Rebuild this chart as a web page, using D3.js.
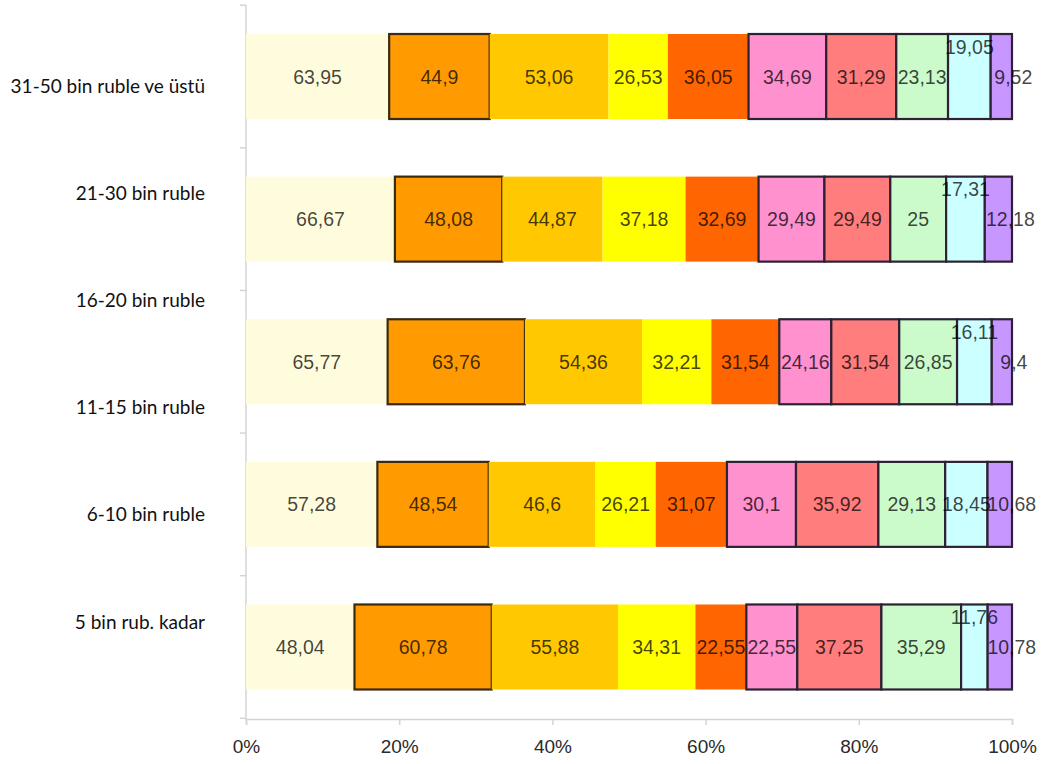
<!DOCTYPE html>
<html>
<head>
<meta charset="utf-8">
<script src="https://cdn.jsdelivr.net/npm/d3@7"></script>
<style>
  html, body { margin: 0; padding: 0; background: #fff; }
  svg { display: block; }
</style>
</head>
<body>
<svg id="chart" width="1052" height="764"></svg>
<script>
// Income groups shown on the left axis
const rowLabels = [
  "31-50 bin ruble ve üstü",
  "21-30 bin ruble",
  "16-20 bin ruble",
  "11-15 bin ruble",
  "6-10 bin ruble",
  "5 bin rub. kadar"
];

// One array per bar (top to bottom), ten answer shares each
const bar1 = [63.95, 44.9, 53.06, 26.53, 36.05, 34.69, 31.29, 23.13, 19.05, 9.52];
const bar2 = [66.67, 48.08, 44.87, 37.18, 32.69, 29.49, 29.49, 25, 17.31, 12.18];
const bar3 = [65.77, 63.76, 54.36, 32.21, 31.54, 24.16, 31.54, 26.85, 16.11, 9.4];
const bar4 = [57.28, 48.54, 46.6, 26.21, 31.07, 30.1, 35.92, 29.13, 18.45, 10.68];
const bar5 = [48.04, 60.78, 55.88, 34.31, 22.55, 22.55, 37.25, 35.29, 11.76, 10.78];
const bars = [bar1, bar2, bar3, bar4, bar5];

// Percent axis ticks
const xTicks = [0, 0.2, 0.4, 0.6, 0.8, 1];

const fills = ["#FFFCDD", "#FF9A00", "#FFC800", "#FFFF00", "#FF6500",
               "#FF91CF", "#FF7D7D", "#CBFBCB", "#CCFFFF", "#C896FF"];
const strokes = [null, "#3a2a10", null, null, null,
                 "#2c2234", "#2c2234", "#2c2234", "#2c2234", "#2c2234"];

const svg = d3.select("#chart");
const x = d3.scaleLinear().domain([0, 1]).range([246, 1012]);
const y = d3.scaleBand().domain(d3.range(bars.length))
  .range([5.2, 718.3]).paddingInner(0.404).paddingOuter(0.202);
const yLab = d3.scalePoint().domain(rowLabels).range([85, 621]);

// Axes
const axisColor = "#d4d4d4";
svg.append("line").attr("x1", x(0)).attr("x2", x(0))
  .attr("y1", 5).attr("y2", 719.5)
  .attr("stroke", axisColor).attr("stroke-width", 1.5);
const yBounds = d3.range(bars.length + 1).map(i => 5.2 + i * y.step());
svg.selectAll(".ytick").data(yBounds).join("line")
  .attr("x1", x(0) - 6).attr("x2", x(0))
  .attr("y1", d => d).attr("y2", d => d)
  .attr("stroke", axisColor).attr("stroke-width", 1.5);

const xAxis = svg.append("g").attr("transform", "translate(0,719)")
  .call(d3.axisBottom(x).tickValues(xTicks).tickFormat(d3.format(".0%"))
    .tickSize(6).tickPadding(15));
xAxis.select(".domain").attr("stroke", axisColor).attr("stroke-width", 1.5);
xAxis.selectAll(".tick line").attr("stroke", axisColor).attr("stroke-width", 1.5);
xAxis.selectAll(".tick text")
  .attr("font-family", "Liberation Sans, Arial, sans-serif")
  .attr("font-size", 19).attr("fill", "#2a2a2a");

// Row labels
svg.append("g").selectAll("text").data(rowLabels).join("text")
  .attr("x", 205).attr("y", d => yLab(d))
  .attr("text-anchor", "end").attr("dominant-baseline", "central")
  .attr("font-family", "Lato, sans-serif").attr("font-size", 19)
  .attr("fill", "#111").text(d => d);

// Stacked 100% bars
const keys = d3.range(10);
const stack = d3.stack().keys(keys).value((row, k) => row[k])
  .offset(d3.stackOffsetExpand);
const layers = stack(bars);

const g = svg.append("g");
layers.forEach((layer, k) => {
  g.append("g").selectAll("rect").data(layer).join("rect")
    .attr("x", d => x(d[0]))
    .attr("y", (d, i) => y(i))
    .attr("width", d => x(d[1]) - x(d[0]))
    .attr("height", y.bandwidth())
    .attr("fill", fills[k])
    .attr("stroke", strokes[k] || "none")
    .attr("stroke-width", strokes[k] ? 2.2 : 0);
});

// Value labels; narrow tail segments get nudged like the spreadsheet did
const fmt = v => String(v).replace(".", ",");
const lab = svg.append("g")
  .attr("font-family", "Liberation Sans, Arial, sans-serif")
  .attr("font-size", 19.5);
layers.forEach((layer, k) => {
  lab.append("g").selectAll("text").data(layer).join("text")
    .attr("x", d => (x(d[0]) + x(d[1])) / 2 + (k === 9 ? 12 : 0))
    .attr("y", (d, i) => y(i) + y.bandwidth() / 2 - (k === 8 && i !== 3 ? 30 : 0))
    .attr("text-anchor", "middle").attr("dominant-baseline", "central")
    .attr("fill", "#000").attr("fill-opacity", 0.74)
    .text((d, i) => fmt(bars[i][k]));
});
</script>
</body>
</html>
